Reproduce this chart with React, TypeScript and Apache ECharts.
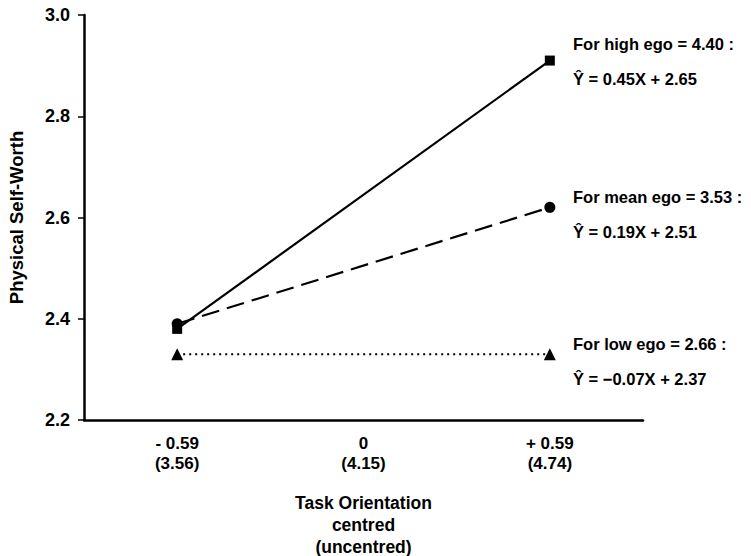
import React, { useEffect, useRef } from "react";
import * as echarts from "echarts";

const categories = ["- 0.59\n(3.56)", "0\n(4.15)", "+ 0.59\n(4.74)"];
const highEgo = [2.38, null, 2.91];
const meanEgo = [2.39, null, 2.62];
const lowEgo = [2.33, null, 2.33];
const yTicks = { min: 2.2, max: 3.0, interval: 0.2 };
const annotations = [
  { title: "For high ego = 4.40 :", eq: "Ŷ = 0.45X + 2.65" },
  { title: "For mean ego = 3.53 :", eq: "Ŷ = 0.19X + 2.51" },
  { title: "For low ego = 2.66 :", eq: "Ŷ = −0.07X + 2.37" },
];

const FONT = "'Liberation Sans', Arial, sans-serif";

export default function App() {
  const ref = useRef<HTMLDivElement>(null);
  useEffect(() => {
    if (!ref.current) return;
    const chart = echarts.init(ref.current, null, { renderer: "svg" });
    const annoY = [[45, 80], [198, 233], [345, 380]];
    const graphics: any[] = [];
    annotations.forEach((a, i) => {
      graphics.push({
        type: "text",
        left: 573,
        top: annoY[i][0] - 10,
        style: { text: a.title, fontFamily: FONT, fontWeight: "bold", fontSize: 16.5, fill: "#000" },
      });
      graphics.push({
        type: "text",
        left: 573,
        top: annoY[i][1] - 10,
        style: { text: a.eq, fontFamily: FONT, fontWeight: "bold", fontSize: 16.5, fill: "#000" },
      });
    });
    chart.setOption({
      animation: false,
      backgroundColor: "#fff",
      grid: { left: 84, right: 108, top: 15, bottom: 136, outerBoundsMode: "none" },
      xAxis: {
        type: "category",
        data: categories,
        boundaryGap: true,
        name: "Task Orientation\ncentred\n(uncentred)",
        nameLocation: "middle",
        nameGap: 72,
        nameTextStyle: { fontFamily: FONT, fontWeight: "bold", fontSize: 17.5, color: "#000", lineHeight: 22 },
        axisLine: { lineStyle: { color: "#000", width: 2.5 } },
        axisTick: { alignWithLabel: true, length: 5, lineStyle: { color: "#000", width: 1.5 } },
        axisLabel: { fontFamily: FONT, fontWeight: "bold", fontSize: 17, color: "#000", lineHeight: 20, margin: 13 },
        splitLine: { show: false },
      },
      yAxis: {
        type: "value",
        min: yTicks.min,
        max: yTicks.max,
        interval: yTicks.interval,
        name: "Physical Self-Worth",
        nameLocation: "middle",
        nameGap: 58,
        nameTextStyle: { fontFamily: FONT, fontWeight: "bold", fontSize: 18.5, color: "#000" },
        axisLine: { show: true, lineStyle: { color: "#000", width: 2.5 } },
        axisTick: { show: true, length: 6, lineStyle: { color: "#000", width: 1.5 } },
        axisLabel: {
          fontFamily: FONT,
          fontWeight: "bold",
          fontSize: 18,
          color: "#000",
          margin: 14,
          formatter: (v: number) => v.toFixed(1),
        },
        splitLine: { show: false },
      },
      series: [
        {
          name: "High ego",
          type: "line",
          data: highEgo,
          connectNulls: true,
          symbol: "rect",
          symbolSize: 10,
          itemStyle: { color: "#000" },
          lineStyle: { color: "#000", width: 2.2, type: "solid" },
          z: 3,
        },
        {
          name: "Mean ego",
          type: "line",
          data: meanEgo,
          connectNulls: true,
          symbol: "circle",
          symbolSize: 11,
          itemStyle: { color: "#000" },
          lineStyle: { color: "#000", width: 2.2, type: [18, 8] },
          z: 2,
        },
        {
          name: "Low ego",
          type: "line",
          data: lowEgo,
          connectNulls: true,
          symbol: "triangle",
          symbolSize: 12,
          itemStyle: { color: "#000" },
          lineStyle: { color: "#000", width: 2, type: [2, 4] },
          z: 2,
        },
      ],
      graphic: graphics,
    });
    return () => chart.dispose();
  }, []);
  return (
    <div
      ref={ref}
      style={{ position: "absolute", left: 0, top: 0, width: 751, height: 556 }}
    />
  );
}
